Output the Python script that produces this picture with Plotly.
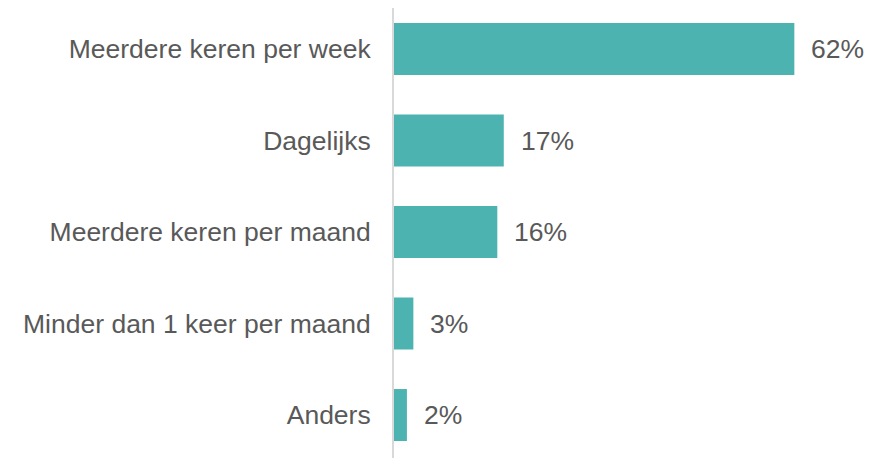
import plotly.graph_objects as go

categories = ["Meerdere keren per week", "Dagelijks", "Meerdere keren per maand",
              "Minder dan 1 keer per maand", "Anders"]
values = [62, 17, 16, 3, 2]
labels = [f"{v}%" for v in values]

W, H = 882, 458
ml, mr, mt, mb = 386, 44, 0, 0
xmax = 70
FONT = "Liberation Sans, Arial"
FS = 26.5

fig = go.Figure(go.Bar(
    x=values, y=categories, orientation="h",
    marker=dict(color="#4DB3B0", line=dict(width=0)),
    width=0.568, hoverinfo="skip",
))

for c, v, t in zip(categories, values, labels):
    fig.add_annotation(x=v, y=c, text=t, showarrow=False, xanchor="left",
                       xshift=15, font=dict(family=FONT, size=FS, color="#595959"))

fig.update_layout(
    width=W, height=H,
    margin=dict(l=ml, r=mr, t=mt, b=mb),
    plot_bgcolor="white", paper_bgcolor="white",
    showlegend=False,
    font=dict(family=FONT, size=FS, color="#595959"),
)
fig.update_xaxes(range=[0, xmax], visible=False, showgrid=False, zeroline=False)
fig.update_yaxes(range=[4.557, -0.448], showgrid=False, zeroline=False,
                 showline=True, linecolor="#D9D9D9", linewidth=2,
                 ticks="", ticklabelstandoff=16,
                 tickfont=dict(family=FONT, size=FS, color="#595959"))

fig.write_html("out.html")
